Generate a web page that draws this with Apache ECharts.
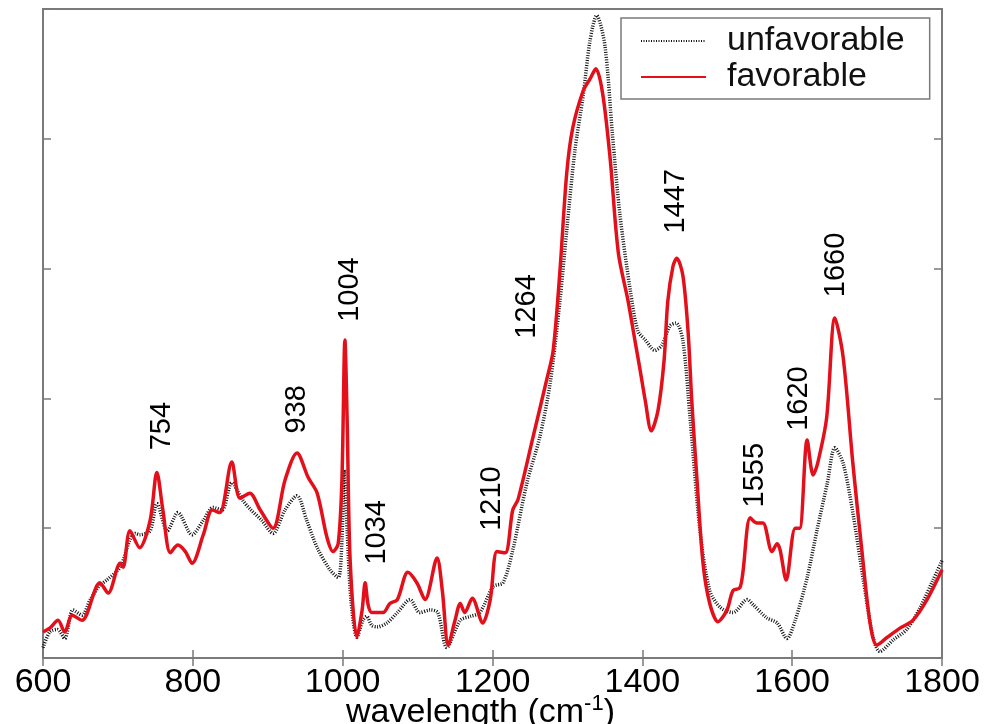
<!DOCTYPE html>
<html>
<head>
<meta charset="utf-8">
<script src="https://cdn.jsdelivr.net/npm/echarts@6.0.0/dist/echarts.min.js"></script>
<style>
  html, body { margin: 0; padding: 0; background: #fff; }
  #chart { width: 984px; height: 724px; }
</style>
</head>
<body>
<div id="chart"></div>
<script>
// wavenumber (cm-1) and intensity
var favX = [600,609,620,629,639,652,676,687,703,707,
    716,729,743,752,760,770,780,790,799,814,
    826,836,852,863,876,890,907,923,939,954,
    966,979,987,994,999,1003,1006,1010,1019,1026,
    1030,1034,1039,1054,1063,1073,1087,1099,1110,1126,
    1133,1141,1150,1157,1163,1173,1187,1197,1206,1217,
    1227,1234,1254,1273,1281,1290,1299,1307,1321,1330,
    1338,1347,1357,1368,1381,1390,1397,1404,1412,1421,
    1429,1434,1441,1446,1454,1461,1466,1473,1481,1490,
    1501,1513,1521,1530,1534,1544,1553,1561,1573,1580,
    1584,1592,1604,1610,1620,1628,1634,1646,1657,1668,
    1681,1693,1704,1713,1727,1744,1761,1780,1800];
var favY = [0.20,0.23,0.29,0.20,0.33,0.29,0.58,0.50,0.73,0.70,
    0.98,0.85,1.06,1.43,1.14,0.81,0.87,0.82,0.73,0.95,
    1.14,1.12,1.51,1.23,1.27,1.14,1.00,1.37,1.58,1.39,
    1.27,0.93,0.82,0.88,1.37,2.45,1.83,0.75,0.16,0.37,
    0.58,0.41,0.35,0.35,0.42,0.45,0.66,0.58,0.45,0.77,
    0.52,0.10,0.29,0.42,0.35,0.46,0.27,0.45,0.82,0.81,
    1.14,1.22,1.70,2.16,2.37,2.98,3.73,4.08,4.37,4.46,
    4.54,4.35,3.85,3.12,2.75,2.45,2.22,1.98,1.75,1.91,
    2.29,2.75,3.02,3.08,2.95,2.52,1.98,1.37,0.73,0.42,
    0.28,0.37,0.52,0.54,0.65,1.08,1.04,1.04,0.82,0.88,
    0.83,0.60,1.00,1.00,1.68,1.41,1.50,1.85,2.62,2.32,
    1.50,0.83,0.27,0.10,0.16,0.23,0.29,0.45,0.68];

var unfavX = [600,609,619,629,640,652,663,676,685,703,
    716,723,729,743,752,766,780,799,814,827,
    839,852,866,876,892,907,923,939,952,966,
    983,994,999,1002,1006,1011,1019,1027,1032,1039,
    1046,1059,1073,1090,1103,1117,1127,1139,1157,1170,
    1183,1201,1214,1227,1246,1263,1277,1290,1299,1310,
    1321,1330,1339,1350,1360,1370,1384,1394,1404,1417,
    1426,1437,1445,1454,1464,1477,1490,1504,1521,1540,
    1548,1566,1580,1593,1604,1620,1633,1647,1657,1668,
    1681,1695,1708,1717,1735,1753,1771,1788,1800];
var unfavY = [0.08,0.20,0.22,0.15,0.37,0.33,0.45,0.56,0.60,0.70,
    0.91,0.96,0.95,0.98,1.19,0.98,1.12,0.95,1.06,1.16,
    1.14,1.35,1.22,1.15,1.06,0.96,1.14,1.25,1.06,0.85,
    0.68,0.62,0.91,1.45,0.98,0.45,0.16,0.29,0.32,0.25,
    0.24,0.27,0.35,0.45,0.35,0.37,0.35,0.08,0.29,0.32,
    0.35,0.55,0.58,0.83,1.35,1.70,2.12,2.75,3.29,3.91,
    4.33,4.75,4.95,4.72,4.04,3.42,2.83,2.52,2.45,2.37,
    2.41,2.56,2.58,2.45,1.83,0.98,0.52,0.39,0.35,0.45,
    0.41,0.31,0.27,0.15,0.29,0.62,0.98,1.35,1.62,1.50,
    1.12,0.60,0.16,0.05,0.14,0.22,0.39,0.60,0.75];

// peak annotations: text, and where the text starts (data units)
var peakText = ['754','938','1004','1034','1210','1264','1447','1555','1620','1660'];
var peakX = [759,939,1010,1046,1199,1246,1445,1550,1609,1658];
var peakY = [1.60,1.73,2.59,0.72,0.98,2.46,3.27,1.16,1.75,2.78];

var xTicks = [600,800,1000,1200,1400,1600,1800];

function zip(xs, ys) {
    var out = [];
    for (var i = 0; i < xs.length; i++) out.push([xs[i], ys[i]]);
    return out;
}

var chart = echarts.init(document.getElementById('chart'));
var font = "'Liberation Sans', Arial, sans-serif";
var axisGray = '#7a7a7a';

var peakData = [];
for (var i = 0; i < peakText.length; i++) {
    peakData.push({ value: [peakX[i], peakY[i]], name: peakText[i] });
}

var option = {
    backgroundColor: '#fff',
    animation: false,
    textStyle: { fontFamily: font },
    grid: {
        left: 43, right: 42, top: 9, bottom: 66,
        outerBoundsMode: 'none',
        containLabel: false,
        show: true,
        borderColor: axisGray,
        borderWidth: 2
    },
    legend: {
        orient: 'vertical',
        left: 621,
        top: 18,
        data: ['unfavorable', 'favorable'],
        backgroundColor: '#fff',
        borderColor: axisGray,
        borderWidth: 1.5,
        borderRadius: 0,
        padding: [5, 25, 4, 19],
        itemGap: 0,
        itemWidth: 65,
        itemHeight: 14,
        selectedMode: false,
        itemStyle: { opacity: 0 },
        textStyle: {
            fontFamily: font,
            fontSize: 34,
            lineHeight: 36,
            color: '#111',
            padding: [0, 0, 0, 16]
        }
    },
    xAxis: [{
        type: 'value',
        min: 600, max: 1800, interval: 200,
        position: 'bottom',
        axisLine: { show: false },
        splitLine: { show: false },
        axisTick: { inside: true, length: 8, lineStyle: { color: axisGray, width: 1.5 } },
        axisLabel: {
            color: '#000', fontSize: 34, margin: 8, fontFamily: font,
            showMinLabel: true, showMaxLabel: true,
            formatter: function (v) { return xTicks.indexOf(v) >= 0 ? String(v) : ''; }
        },
        name: '{a|wavelength (cm}{s|-1}{a|)}',
        nameLocation: 'middle',
        nameGap: 35,
        nameMoveOverlap: false,
        nameTextStyle: {
            padding: [0, 24, 0, 0],
            rich: {
                a: { fontSize: 34, color: '#000', fontFamily: font, lineHeight: 40 },
                s: { fontSize: 22, color: '#000', fontFamily: font, verticalAlign: 'top', lineHeight: 40, padding: [0, 0, 14, 0] }
            }
        }
    }, {
        type: 'value',
        min: 600, max: 1800, interval: 200,
        position: 'top',
        axisLine: { show: false },
        splitLine: { show: false },
        axisTick: { inside: true, length: 8, lineStyle: { color: axisGray, width: 1.5 } },
        axisLabel: { show: false }
    }],
    yAxis: [{
        type: 'value',
        min: 0, max: 5, interval: 1,
        position: 'left',
        axisLine: { show: false },
        splitLine: { show: false },
        axisTick: { inside: true, length: 8, lineStyle: { color: axisGray, width: 1.5 } },
        axisLabel: { show: false }
    }, {
        type: 'value',
        min: 0, max: 5, interval: 1,
        position: 'right',
        axisLine: { show: false },
        splitLine: { show: false },
        axisTick: { inside: true, length: 8, lineStyle: { color: axisGray, width: 1.5 } },
        axisLabel: { show: false }
    }],
    series: [{
        name: 'unfavorable',
        type: 'line',
        data: zip(unfavX, unfavY),
        showSymbol: false,
        symbol: 'none',
        smooth: 0.3,
        lineStyle: { color: '#111', width: 3.5, type: [1, 1.5] },
        itemStyle: { color: '#111' },
        z: 2
    }, {
        name: 'favorable',
        type: 'line',
        data: zip(favX, favY),
        showSymbol: false,
        symbol: 'none',
        smooth: 0.3,
        lineStyle: { color: '#e3101b', width: 3.5 },
        itemStyle: { color: '#e3101b' },
        z: 3
    }, {
        name: 'peaks',
        type: 'scatter',
        data: peakData,
        symbolSize: 1,
        silent: true,
        itemStyle: { color: 'rgba(0,0,0,0)', opacity: 1 },
        label: {
            show: true,
            position: 'inside',
            rotate: 90,
            align: 'left',
            verticalAlign: 'middle',
            fontSize: 29,
            fontFamily: font,
            color: '#000',
            opacity: 1,
            textBorderWidth: 0,
            formatter: function (p) { return p.name; }
        },
        z: 4
    }]
};

chart.setOption(option);
</script>
</body>
</html>
